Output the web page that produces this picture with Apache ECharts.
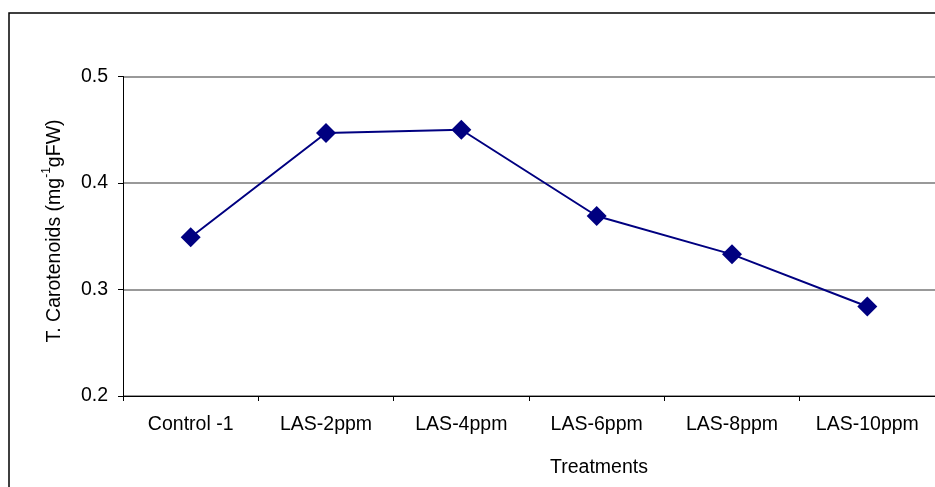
<!DOCTYPE html>
<html>
<head>
<meta charset="utf-8">
<script src="https://cdn.jsdelivr.net/npm/echarts@6/dist/echarts.min.js"></script>
<style>
  html, body { margin: 0; padding: 0; background: #fff; }
  #chart { width: 935px; height: 487px; }
</style>
</head>
<body>
<div id="chart"></div>
<script>
// Treatment groups along the x axis
const treatments = ['Control -1', 'LAS-2ppm', 'LAS-4ppm', 'LAS-6ppm', 'LAS-8ppm', 'LAS-10ppm'];
// Total carotenoid content per treatment (mg-1 gFW)
const carotenoids = [0.349, 0.447, 0.450, 0.369, 0.333, 0.284];
// Value axis range and step
const yMin = 0.2;
const yMax = 0.5;
const yStep = 0.1;

const FONT = 'Liberation Sans, Arial, sans-serif';
const FS = 19.5;
const chart = echarts.init(document.getElementById('chart'), null, { renderer: 'canvas' });

chart.setOption({
  backgroundColor: '#fff',
  animation: false,
  grid: { left: 123, right: -1, top: 76.5, bottom: 91, containLabel: false },
  xAxis: {
    type: 'category',
    data: treatments,
    boundaryGap: true,
    axisLine: { lineStyle: { color: '#000', width: 1 } },
    axisTick: { show: true, alignWithLabel: false, length: 5, lineStyle: { color: '#000' } },
    axisLabel: { color: '#000', fontFamily: FONT, fontSize: FS, margin: 19 },
    splitLine: { show: false }
  },
  yAxis: {
    type: 'value',
    min: yMin,
    max: yMax,
    interval: yStep,
    axisLine: { show: true, lineStyle: { color: '#000', width: 1 } },
    axisTick: { show: true, length: 5, lineStyle: { color: '#000' } },
    axisLabel: {
      color: '#000', fontFamily: FONT, fontSize: FS, margin: 15,
      formatter: v => v.toFixed(1)
    },
    splitLine: { show: true, lineStyle: { color: '#777', width: 1.5 } }
  },
  graphic: [
    {
      type: 'rect',
      shape: { x: 9, y: 13, width: 1000, height: 1000 },
      style: { fill: 'none', stroke: '#000', lineWidth: 1.5 },
      silent: true
    },
    {
      type: 'text',
      x: 53, y: 231,
      rotation: Math.PI / 2,
      style: {
        text: '{t|T. Carotenoids (mg}{s|-1}{t|gFW)}',
        align: 'center', verticalAlign: 'middle',
        rich: {
          t: { fontFamily: FONT, fontSize: FS, fill: '#000', verticalAlign: 'bottom', lineHeight: 24 },
          s: { fontFamily: FONT, fontSize: 12, fill: '#000', verticalAlign: 'top', lineHeight: 24 }
        }
      }
    },
    {
      type: 'text',
      x: 599, y: 467.5,
      style: {
        text: 'Treatments', fontFamily: FONT, fontSize: FS, fill: '#000',
        align: 'center', verticalAlign: 'middle'
      }
    }
  ],
  series: [{
    type: 'line',
    data: carotenoids,
    symbol: 'diamond',
    symbolSize: 20,
    lineStyle: { color: '#000080', width: 2 },
    itemStyle: { color: '#000080' },
    label: { show: false }
  }]
});
</script>
</body>
</html>
